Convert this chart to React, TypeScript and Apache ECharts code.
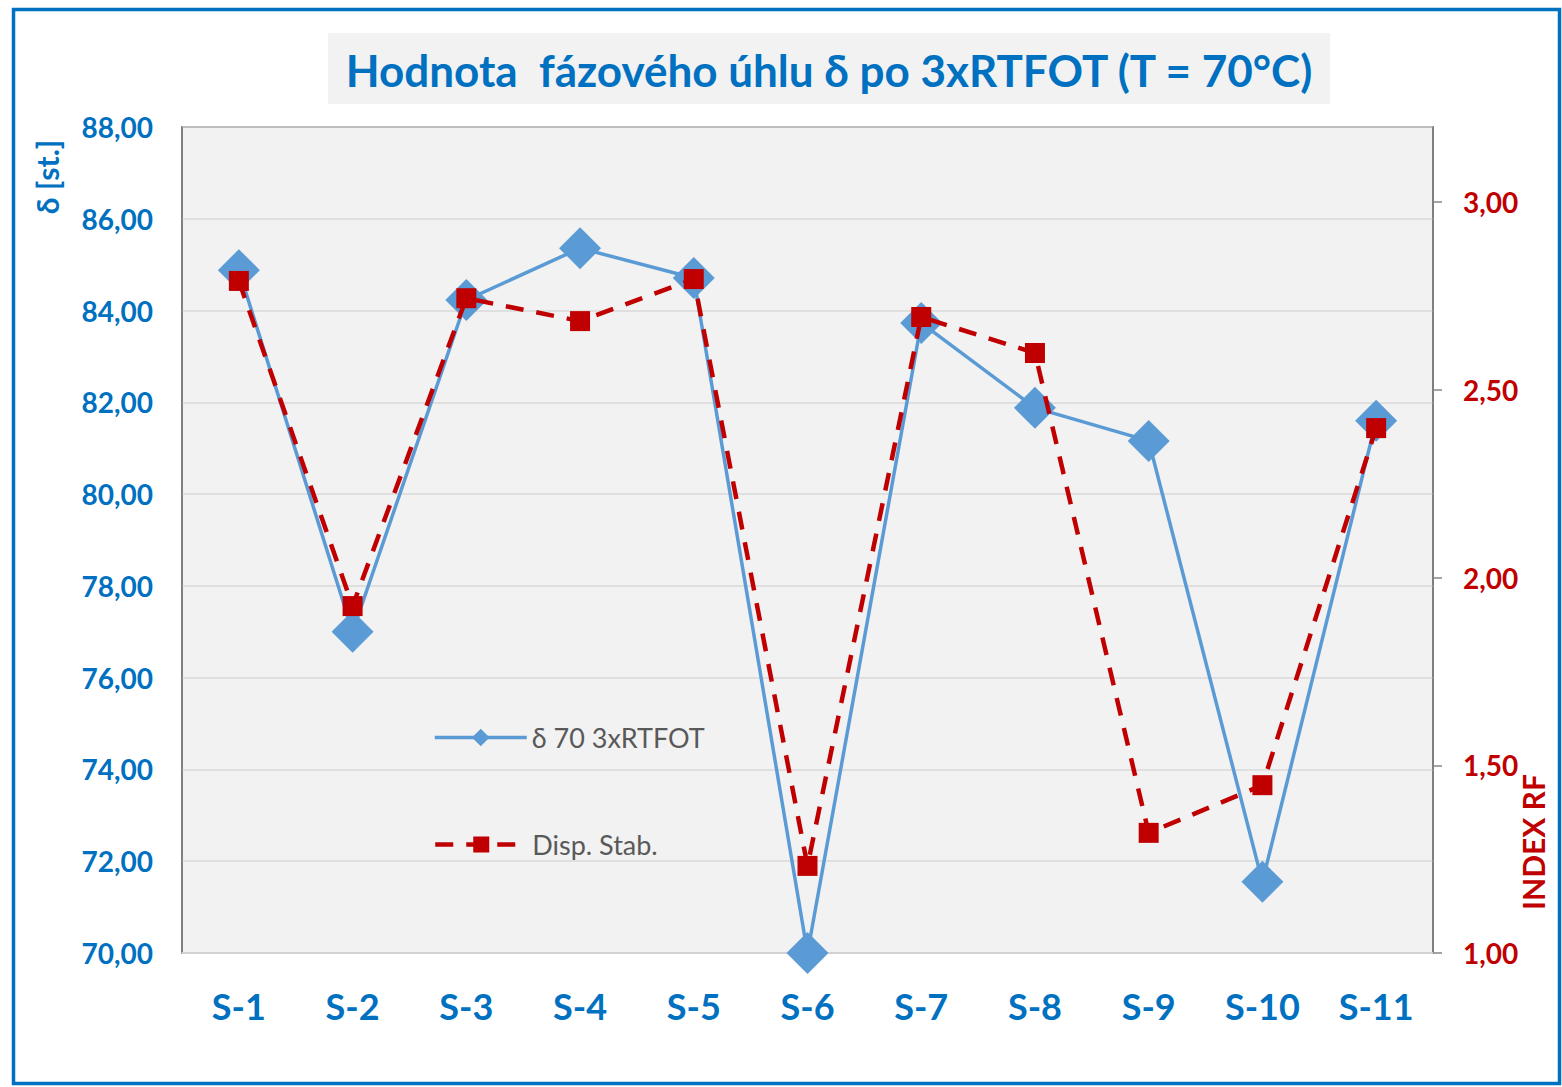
import React, { useEffect, useRef } from "react";
import * as echarts from "echarts";

const categories = ["S-1", "S-2", "S-3", "S-4", "S-5", "S-6", "S-7", "S-8", "S-9", "S-10", "S-11"];
const deltaValues = [84.88, 77.0, 84.23, 85.36, 84.71, 70.0, 83.73, 81.88, 81.16, 71.55, 81.6];
const dispStabValues = [2.79, 1.924, 2.744, 2.683, 2.795, 1.232, 2.694, 2.598, 1.32, 1.447, 2.398];
const leftTicks = [70, 72, 74, 76, 78, 80, 82, 84, 86, 88];
const rightTicks = [1, 1.5, 2, 2.5, 3];

const titleText = "Hodnota  fázového úhlu δ po 3xRTFOT (T = 70°C)";
const seriesNames = ["δ 70 3xRTFOT", "Disp. Stab."];

const BLUE = "#0070c0";
const RED = "#c00000";
const LINEBLUE = "#5b9bd5";
const FONT = "Lato, Carlito, 'Noto Sans', sans-serif";

const fmt = (v: number) => v.toFixed(2).replace(".", ",");

export default function App() {
  const ref = useRef<HTMLDivElement>(null);
  useEffect(() => {
    if (!ref.current) return;
    const chart = echarts.init(ref.current, null, { renderer: "svg" });
    chart.setOption({
      animation: false,
      backgroundColor: "#ffffff",
      textStyle: { fontFamily: FONT },
      grid: {
        left: 182,
        top: 127,
        right: 129,
        bottom: 134,
        show: true,
        backgroundColor: "#f2f2f2",
        borderColor: "#404040",
        borderWidth: 1.5,
      },
      graphic: [
        {
          type: "rect",
          shape: { x: 13.5, y: 9.5, width: 1546, height: 1074 },
          style: { fill: "none", stroke: BLUE, lineWidth: 3.5 },
          silent: true,
        },
        {
          type: "rect",
          shape: { x: 328, y: 33, width: 1002, height: 71 },
          style: { fill: "#f2f2f2" },
          silent: true,
        },
        {
          type: "text",
          x: 829,
          y: 70,
          style: {
            text: titleText,
            fill: BLUE,
            font: `bold 44px ${FONT}`,
            align: "center",
            verticalAlign: "middle",
          },
        },
        {
          type: "text",
          x: 47,
          y: 177,
          rotation: Math.PI / 2,
          style: {
            text: "δ [st.]",
            fill: BLUE,
            font: `bold 30px ${FONT}`,
            align: "center",
            verticalAlign: "middle",
          },
        },
        {
          type: "text",
          x: 1533,
          y: 842,
          rotation: Math.PI / 2,
          style: {
            text: "INDEX RF",
            fill: RED,
            font: `bold 30px ${FONT}`,
            align: "center",
            verticalAlign: "middle",
          },
        },
      ],
      legend: [
        {
          data: [{ name: seriesNames[0] }],
          left: 428,
          top: 719,
          itemWidth: 92,
          itemHeight: 22,
          itemGap: 10,
          lineStyle: { width: 3.5 },
          textStyle: { color: "#595959", fontSize: 27, fontFamily: FONT },
        },
        {
          data: [{ name: seriesNames[1] }],
          left: 428,
          top: 826,
          itemWidth: 92,
          itemHeight: 20,
          itemGap: 10,
          lineStyle: { width: 4.5 },
          textStyle: { color: "#595959", fontSize: 27, fontFamily: FONT },
        },
      ],
      xAxis: {
        type: "category",
        data: categories,
        boundaryGap: true,
        axisLine: { lineStyle: { color: "#d9d9d9", width: 1.5 } },
        axisTick: { show: false },
        axisLabel: {
          color: BLUE,
          fontSize: 36,
          fontWeight: "bold",
          fontFamily: FONT,
          margin: 35,
          interval: 0,
        },
      },
      yAxis: [
        {
          type: "value",
          min: 70,
          max: 88,
          interval: 2,
          axisLine: { show: true, lineStyle: { color: "#868686", width: 1.5 } },
          axisTick: { show: false },
          axisLabel: {
            color: BLUE,
            fontSize: 28,
            fontWeight: "bold",
            fontFamily: FONT,
            margin: 29,
            formatter: fmt,
            customValues: leftTicks,
          },
          splitLine: { lineStyle: { color: "#d9d9d9", width: 1.5 } },
        },
        {
          type: "value",
          min: 1,
          max: 3.2,
          interval: 0.5,
          position: "right",
          axisLine: { show: true, lineStyle: { color: "#868686", width: 1.5 } },
          axisTick: {
            show: true,
            length: 9,
            lineStyle: { color: "#868686", width: 1.5 },
            customValues: rightTicks,
          },
          axisLabel: {
            color: RED,
            fontSize: 28,
            fontWeight: "bold",
            fontFamily: FONT,
            margin: 30,
            formatter: fmt,
            customValues: rightTicks,
          },
          splitLine: { show: false },
        },
      ],
      series: [
        {
          name: seriesNames[0],
          type: "line",
          yAxisIndex: 0,
          data: deltaValues,
          symbol: "diamond",
          symbolSize: 42,
          itemStyle: { color: LINEBLUE },
          lineStyle: { color: LINEBLUE, width: 3.5 },
          z: 2,
        },
        {
          name: seriesNames[1],
          type: "line",
          yAxisIndex: 1,
          data: dispStabValues,
          symbol: "rect",
          symbolSize: 20,
          itemStyle: { color: RED },
          lineStyle: { color: RED, width: 4.5, type: [18, 13] },
          z: 3,
        },
      ],
    });
    return () => chart.dispose();
  }, []);
  return (
    <div
      ref={ref}
      style={{ position: "fixed", left: 0, top: 0, width: 1562, height: 1087 }}
    />
  );
}
